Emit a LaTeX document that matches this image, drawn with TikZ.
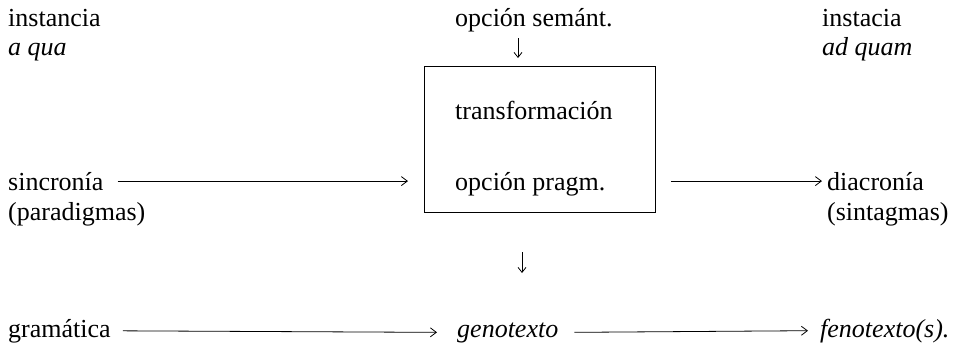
\documentclass[tikz,border=0pt]{standalone}
\usepackage{fontspec}
\setmainfont{Liberation Serif}
\usetikzlibrary{arrows.meta}
\begin{document}
\begin{tikzpicture}[x=1pt,y=-1pt,
  lbl/.style={inner sep=0pt, anchor=base west, font=\fontsize{26}{30}\selectfont},
  arr/.style={line width=0.8pt, -{Straight Barb[length=6pt,width=9pt]}},
  darr/.style={line width=0.8pt, -{Straight Barb[length=5pt,width=8pt]}},
  frame/.style={draw, line width=0.9pt, inner sep=0pt}]
\useasboundingbox (0,0) rectangle (960,356);
\node[frame, minimum width=231pt, minimum height=146pt, anchor=north west] (box) at (424,66) {};
\node[lbl] (inst) at (8,26) {instancia};
\node[lbl] (aqua) at (8,55) {\itshape a qua};
\node[lbl] (sem) at (455,26) {opción semánt.};
\node[lbl] (instb) at (822,26) {instacia};
\node[lbl] (adq) at (822,55) {\itshape ad quam};
\node[lbl] (trans) at (455,119) {transformación};
\node[lbl] (prag) at (455,190) {opción pragm.};
\node[lbl] (sinc) at (8,190) {sincronía};
\node[lbl] (para) at (8,220) {(paradigmas)};
\node[lbl] (diac) at (827,190) {diacronía};
\node[lbl] (sint) at (827,220) {(sintagmas)};
\node[lbl] (gram) at (8,337) {gramática};
\node[lbl] (geno) at (457,337) {\itshape genotexto};
\node[lbl] (feno) at (820,337) {\itshape fenotexto(s).};
\coordinate (d1a) at (518,38);
\coordinate (d1b) at (518,58);
\coordinate (d2a) at (522,252);
\coordinate (d2b) at (522,273);
\draw[darr] (d1a) -- (d1b);
\draw[darr] (d2a) -- (d2b);
\draw[arr, shorten <=14pt, shorten >=16pt] (sinc.east) -- (sinc.east -| box.west);
\draw[arr, shorten <=15pt, shorten >=5pt] (box.east |- diac.west) -- (diac.west);
\draw[arr, shorten <=12pt, shorten >=20pt] (gram.east) -- (geno.west);
\draw[arr, shorten <=16pt, shorten >=12pt] (geno.east) -- (feno.west);
\end{tikzpicture}
\end{document}
